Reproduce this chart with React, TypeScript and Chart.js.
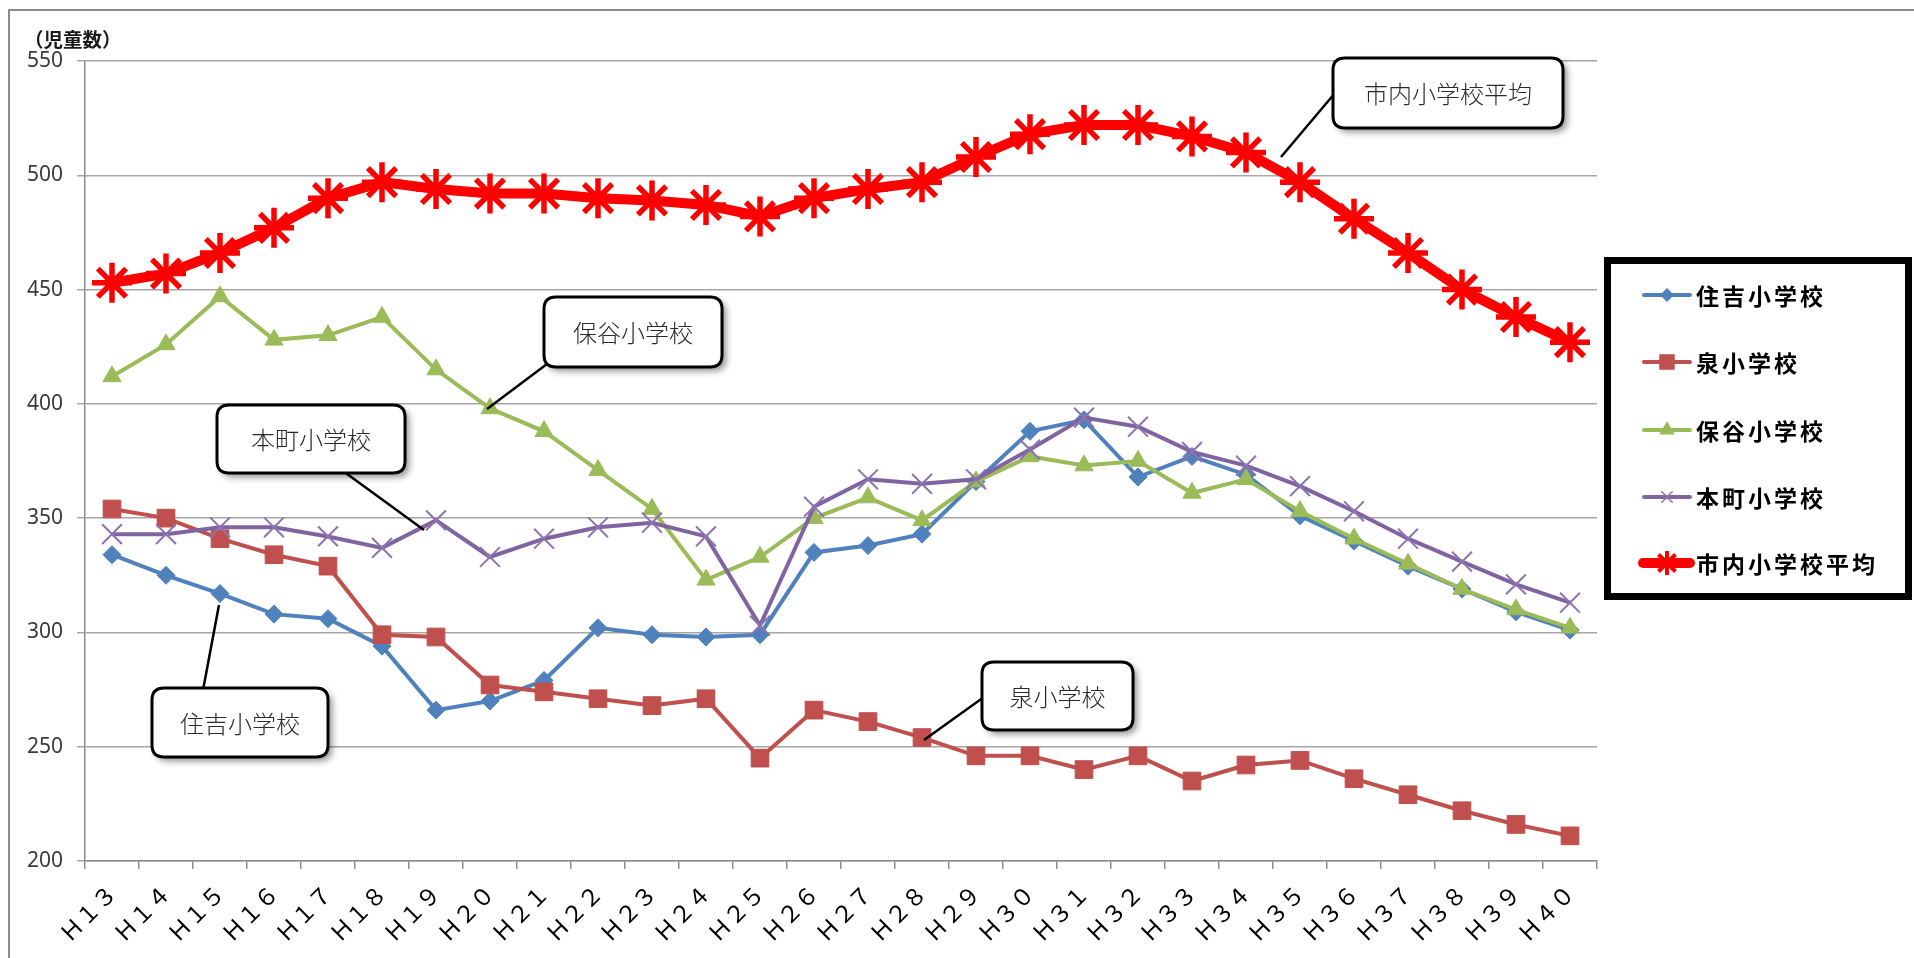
import React, { useEffect, useRef } from "react";
import { Chart, registerables } from "chart.js";

Chart.register(...registerables);

const categories = [
  "Ｈ１３", "Ｈ１４", "Ｈ１５", "Ｈ１６", "Ｈ１７", "Ｈ１８", "Ｈ１９", "Ｈ２０", "Ｈ２１", "Ｈ２２",
  "Ｈ２３", "Ｈ２４", "Ｈ２５", "Ｈ２６", "Ｈ２７", "Ｈ２８", "Ｈ２９", "Ｈ３０", "Ｈ３１", "Ｈ３２",
  "Ｈ３３", "Ｈ３４", "Ｈ３５", "Ｈ３６", "Ｈ３７", "Ｈ３８", "Ｈ３９", "Ｈ４０",
];

const sumiyoshi = [334, 325, 317, 308, 306, 294, 266, 270, 279, 302, 299, 298, 299, 335, 338, 343, 366, 388, 393, 368, 377, 369, 351, 340, 329, 319, 309, 301];
const izumi = [354, 350, 341, 334, 329, 299, 298, 277, 274, 271, 268, 271, 245, 266, 261, 254, 246, 246, 240, 246, 235, 242, 244, 236, 229, 222, 216, 211];
const hoya = [412, 426, 447, 428, 430, 438, 415, 398, 388, 371, 354, 323, 333, 350, 359, 349, 366, 377, 373, 375, 361, 367, 353, 341, 330, 319, 310, 302];
const honcho = [343, 343, 346, 346, 342, 337, 349, 333, 341, 346, 348, 342, 303, 355, 367, 365, 367, 380, 394, 390, 379, 373, 364, 353, 341, 331, 321, 313];
const cityAverage = [453, 457, 466, 477, 490, 497, 494, 492, 492, 490, 489, 487, 482, 490, 494, 497, 508, 518, 522, 522, 517, 510, 497, 481, 466, 450, 438, 427];

const seriesNames = ["住吉小学校", "泉小学校", "保谷小学校", "本町小学校", "市内小学校平均"];
const yTicks = [200, 250, 300, 350, 400, 450, 500, 550];
const yTitle = "（児童数）";

const JP = '"Noto Sans CJK JP", "Noto Sans", sans-serif';

type Callout = { text: string; x: number; y: number; w: number; h: number; lx1: number; ly1: number; lx2: number; ly2: number };
const callouts: Callout[] = [
  { text: "市内小学校平均", x: 1333, y: 58, w: 230, h: 70, lx1: 1335, ly1: 93, lx2: 1281, ly2: 157 },
  { text: "保谷小学校", x: 544, y: 297, w: 178, h: 70, lx1: 547, ly1: 364, lx2: 487, ly2: 409 },
  { text: "本町小学校", x: 217, y: 405, w: 188, h: 68, lx1: 343, ly1: 471, lx2: 424, ly2: 530 },
  { text: "住吉小学校", x: 152, y: 688, w: 176, h: 69, lx1: 203, ly1: 690, lx2: 219, ly2: 605 },
  { text: "泉小学校", x: 982, y: 662, w: 151, h: 68, lx1: 984, ly1: 697, lx2: 924, ly2: 740 },
];

function roundRect(ctx: CanvasRenderingContext2D, x: number, y: number, w: number, h: number, r: number) {
  ctx.beginPath();
  ctx.moveTo(x + r, y);
  ctx.lineTo(x + w - r, y);
  ctx.quadraticCurveTo(x + w, y, x + w, y + r);
  ctx.lineTo(x + w, y + h - r);
  ctx.quadraticCurveTo(x + w, y + h, x + w - r, y + h);
  ctx.lineTo(x + r, y + h);
  ctx.quadraticCurveTo(x, y + h, x, y + h - r);
  ctx.lineTo(x, y + r);
  ctx.quadraticCurveTo(x, y, x + r, y);
  ctx.closePath();
}

function drawMarker(ctx: CanvasRenderingContext2D, style: string, x: number, y: number, r: number, color: string, lw: number) {
  ctx.save();
  ctx.fillStyle = color;
  ctx.strokeStyle = color;
  ctx.lineWidth = lw;
  ctx.beginPath();
  if (style === "rectRot") {
    ctx.moveTo(x - r, y);
    ctx.lineTo(x, y - r);
    ctx.lineTo(x + r, y);
    ctx.lineTo(x, y + r);
    ctx.closePath();
    ctx.fill();
  } else if (style === "rect") {
    const s = r * Math.SQRT1_2;
    ctx.rect(x - s, y - s, 2 * s, 2 * s);
    ctx.fill();
  } else if (style === "triangle") {
    ctx.moveTo(x, y - r);
    ctx.lineTo(x + r * 0.866, y + r * 0.5);
    ctx.lineTo(x - r * 0.866, y + r * 0.5);
    ctx.closePath();
    ctx.fill();
  } else if (style === "crossRot") {
    const o = r * Math.SQRT1_2;
    ctx.moveTo(x - o, y - o);
    ctx.lineTo(x + o, y + o);
    ctx.moveTo(x + o, y - o);
    ctx.lineTo(x - o, y + o);
    ctx.stroke();
  } else if (style === "star") {
    const o = r * Math.SQRT1_2;
    ctx.moveTo(x, y - r);
    ctx.lineTo(x, y + r);
    ctx.moveTo(x - o, y - o);
    ctx.lineTo(x + o, y + o);
    ctx.moveTo(x + o, y - o);
    ctx.lineTo(x - o, y + o);
    ctx.stroke();
  }
  ctx.restore();
}

const decorPlugin = {
  id: "decor",
  beforeDraw(chart: any) {
    const ctx = chart.ctx as CanvasRenderingContext2D;
    ctx.save();
    ctx.fillStyle = "#ffffff";
    ctx.fillRect(0, 0, chart.width, chart.height);
    ctx.strokeStyle = "#8c8c8c";
    ctx.lineWidth = 2;
    ctx.beginPath();
    ctx.moveTo(9, chart.height);
    ctx.lineTo(9, 10);
    ctx.lineTo(chart.width, 10);
    ctx.stroke();
    ctx.fillStyle = "#1a1a1a";
    ctx.font = `bold 19.5px ${JP}`;
    ctx.textBaseline = "middle";
    ctx.textAlign = "left";
    ctx.fillText(yTitle, 24, 40);
    ctx.restore();
  },
  afterDraw(chart: any) {
    const ctx = chart.ctx as CanvasRenderingContext2D;
    callouts.forEach((c) => {
      ctx.save();
      ctx.strokeStyle = "#000";
      ctx.lineWidth = 2.5;
      ctx.beginPath();
      ctx.moveTo(c.lx1, c.ly1);
      ctx.lineTo(c.lx2, c.ly2);
      ctx.stroke();
      ctx.shadowColor = "rgba(0,0,0,0.45)";
      ctx.shadowBlur = 7;
      ctx.shadowOffsetX = 4;
      ctx.shadowOffsetY = 4;
      roundRect(ctx, c.x, c.y, c.w, c.h, 12);
      ctx.fillStyle = "#fff";
      ctx.fill();
      ctx.shadowColor = "transparent";
      ctx.lineWidth = 3;
      ctx.strokeStyle = "#000";
      ctx.stroke();
      ctx.fillStyle = "#2a2a2a";
      ctx.font = `300 24px ${JP}`;
      ctx.textAlign = "center";
      ctx.textBaseline = "middle";
      ctx.fillText(c.text, c.x + c.w / 2, c.y + c.h / 2 + 1);
      ctx.restore();
    });
    ctx.save();
    ctx.fillStyle = "#fff";
    ctx.fillRect(1604, 257, 308, 343);
    ctx.strokeStyle = "#000";
    ctx.lineWidth = 7;
    ctx.strokeRect(1607.5, 260.5, 301, 336);
    const ys = [295, 362, 430, 497, 563];
    chart.data.datasets.forEach((ds: any, i: number) => {
      const y = ys[i];
      ctx.save();
      ctx.strokeStyle = ds.borderColor;
      ctx.lineWidth = i === 4 ? 10 : 4;
      ctx.lineCap = "round";
      ctx.beginPath();
      ctx.moveTo(i === 4 ? 1643 : 1644, y);
      ctx.lineTo(1690, y);
      ctx.stroke();
      ctx.restore();
      const legendR = [7, 11, 9, 8, 12][i];
      const legendLw = [1, 1, 1, 1.5, 4][i];
      drawMarker(ctx, ds.pointStyle, 1667, y, legendR, ds.pointBorderColor, legendLw);
      ctx.save();
      ctx.fillStyle = "#000";
      ctx.font = `bold 23px ${JP}`;
      (ctx as any).letterSpacing = "3px";
      ctx.textAlign = "left";
      ctx.textBaseline = "middle";
      ctx.fillText(seriesNames[i], 1696, y + 1);
      ctx.restore();
    });
    ctx.restore();
  },
};

export default function App() {
  const canvasRef = useRef<HTMLCanvasElement | null>(null);

  useEffect(() => {
    if (!canvasRef.current) return;
    const gridColor = "#a6a6a6";
    const axisColor = "#8c8c8c";
    const chart = new Chart(canvasRef.current, {
      type: "line",
      data: {
        labels: categories,
        datasets: [
          {
            label: seriesNames[0],
            data: sumiyoshi,
            borderColor: "#4F81BD",
            backgroundColor: "#4F81BD",
            pointBackgroundColor: "#4F81BD",
            pointBorderColor: "#4F81BD",
            borderWidth: 4,
            pointStyle: "rectRot",
            pointRadius: 9,
            pointBorderWidth: 1,
            order: 5,
          },
          {
            label: seriesNames[1],
            data: izumi,
            borderColor: "#C0504D",
            backgroundColor: "#C0504D",
            pointBackgroundColor: "#C0504D",
            pointBorderColor: "#C0504D",
            borderWidth: 4,
            pointStyle: "rect",
            pointRadius: 12.5,
            pointBorderWidth: 1,
            order: 4,
          },
          {
            label: seriesNames[2],
            data: hoya,
            borderColor: "#9BBB59",
            backgroundColor: "#9BBB59",
            pointBackgroundColor: "#9BBB59",
            pointBorderColor: "#9BBB59",
            borderWidth: 4,
            pointStyle: "triangle",
            pointRadius: 10.5,
            pointBorderWidth: 1,
            order: 3,
          },
          {
            label: seriesNames[3],
            data: honcho,
            borderColor: "#8064A2",
            backgroundColor: "#8064A2",
            pointBackgroundColor: "#8064A2",
            pointBorderColor: "#8D73B0",
            borderWidth: 4,
            pointStyle: "crossRot",
            pointRadius: 14,
            pointBorderWidth: 2,
            order: 2,
          },
          {
            label: seriesNames[4],
            data: cityAverage,
            borderColor: "#FF0000",
            backgroundColor: "#FF0000",
            pointBackgroundColor: "#FF0000",
            pointBorderColor: "#FF0000",
            borderWidth: 10,
            pointStyle: "star",
            pointRadius: 20,
            pointBorderWidth: 5.5,
            order: 1,
          },
        ],
      },
      options: {
        responsive: false,
        animation: false,
        devicePixelRatio: 1,
        layout: { padding: { left: 0, top: 61, right: 317, bottom: 0 } },
        elements: { line: { tension: 0 } },
        plugins: {
          legend: { display: false },
          tooltip: { enabled: false },
        },
        scales: {
          x: {
            type: "category",
            offset: true,
            grid: {
              offset: true,
              drawOnChartArea: false,
              drawTicks: true,
              tickLength: 8,
              color: axisColor,
              lineWidth: 1.5,
            },
            border: { display: true, color: axisColor, width: 1.5 },
            ticks: {
              autoSkip: false,
              maxRotation: 45,
              minRotation: 45,
              padding: 10,
              color: "#000",
              font: { family: JP, size: 23 },
            },
            afterFit(scale: any) {
              scale.height = 97;
            },
          },
          y: {
            min: 200,
            max: 550,
            grid: {
              color: gridColor,
              lineWidth: 1.5,
              drawTicks: true,
              tickLength: 8,
            },
            border: { display: true, color: axisColor, width: 1.5 },
            afterBuildTicks(scale: any) {
              scale.ticks = yTicks.map((v) => ({ value: v }));
            },
            ticks: {
              padding: 14,
              color: "#3a3a3a",
              font: { family: '"Noto Sans", sans-serif', size: 21 },
            },
            afterFit(scale: any) {
              scale.width = 85;
            },
          },
        },
      },
      plugins: [decorPlugin],
    } as any);
    return () => chart.destroy();
  }, []);

  return (
    <div style={{ position: "fixed", left: 0, top: 0, width: 1914, height: 958, background: "#fff" }}>
      <canvas ref={canvasRef} width={1914} height={958} style={{ display: "block" }} />
    </div>
  );
}
